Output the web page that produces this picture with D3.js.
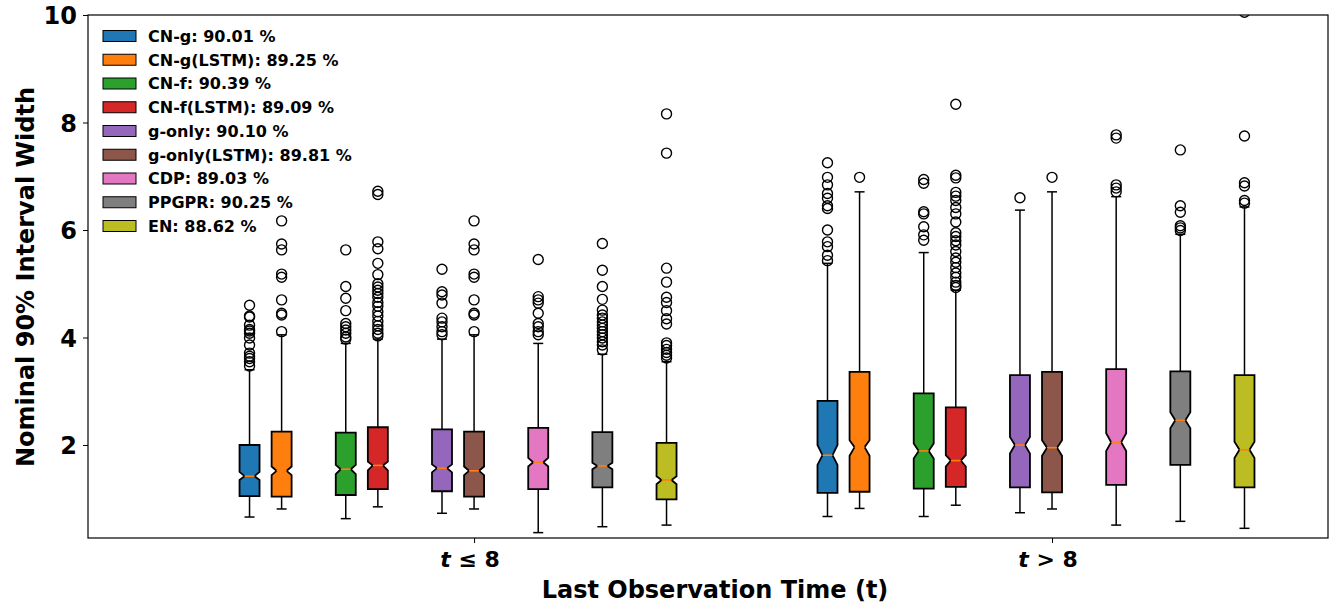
<!DOCTYPE html>
<html><head><meta charset="utf-8">
<script src="https://cdn.jsdelivr.net/npm/d3@7"></script>
<style>body{margin:0;background:#fff}svg{display:block}text{font-family:"DejaVu Sans",sans-serif;font-weight:bold}</style>
</head><body><svg id="c" width="1330" height="603"></svg>
<script>
const methods = ["CN-g","CN-g(LSTM)","CN-f","CN-f(LSTM)","g-only","g-only(LSTM)","CDP","PPGPR","EN"];
const coverage = ["90.01","89.25","90.39","89.09","90.10","89.81","89.03","90.25","88.62"];
const colors = ["#1f77b4","#ff7f0e","#2ca02c","#d62728","#9467bd","#8c564b","#e377c2","#7f7f7f","#bcbd22"];
const groups = ["t ≤ 8","t > 8"];
const offsets = [-7,-6,-4,-3,-1,0,2,4,6].map(k=>k*0.0555);
const yTicks = [2,4,6,8,10];
// per method: [group t<=8, group t>8]
const q1   = [[1.05,1.11],[1.04,1.13],[1.07,1.19],[1.18,1.22],[1.14,1.21],[1.04,1.12],[1.18,1.26],[1.21,1.63],[0.99,1.21]];
const q3   = [[2.00,2.82],[2.25,3.36],[2.23,2.96],[2.33,2.70],[2.29,3.30],[2.25,3.36],[2.32,3.41],[2.24,3.37],[2.04,3.30]];
const med  = [[1.42,1.81],[1.52,1.96],[1.55,1.89],[1.62,1.71],[1.57,2.00],[1.52,1.95],[1.68,2.05],[1.61,2.46],[1.35,1.91]];
const ciLo = [[1.35,1.63],[1.44,1.80],[1.46,1.75],[1.53,1.60],[1.49,1.84],[1.44,1.80],[1.60,1.89],[1.55,2.31],[1.27,1.76]];
const ciHi = [[1.50,2.00],[1.60,2.09],[1.63,2.03],[1.69,1.81],[1.64,2.15],[1.60,2.09],[1.76,2.22],[1.67,2.61],[1.42,2.06]];
const whisLo = [[0.66,0.67],[0.81,0.82],[0.63,0.67],[0.85,0.88],[0.73,0.74],[0.81,0.81],[0.37,0.51],[0.48,0.58],[0.51,0.45]];
const whisHi = [[3.40,5.38],[4.05,6.71],[3.89,5.58],[3.97,4.88],[3.97,6.37],[4.05,6.71],[3.89,6.62],[3.69,5.92],[3.55,6.43]];
const fliers = [
 [[4.60,4.40,4.38,4.23,4.15,4.12,4.08,3.99,3.86,3.71,3.65,3.61,3.55,3.47],[7.25,6.98,6.84,6.68,6.59,6.45,6.40,6.00,5.78,5.69,5.53,5.43]],
 [[6.17,5.74,5.63,5.18,5.12,4.70,4.45,4.42,4.11],[6.98]],
 [[5.63,4.95,4.73,4.50,4.26,4.20,4.14,4.08,4.01,3.97],[6.94,6.87,6.34,6.30,6.06,5.91,5.81]],
 [[6.72,6.66,5.78,5.65,5.38,5.17,5.00,4.94,4.88,4.82,4.75,4.65,4.58,4.48,4.40,4.30,4.22,4.15,4.08,4.03],
  [8.34,7.02,6.97,6.70,6.63,6.55,6.42,6.30,6.15,5.95,5.88,5.80,5.72,5.60,5.48,5.40,5.30,5.20,5.12,5.03,4.97,4.93]],
 [[5.27,4.85,4.79,4.64,4.36,4.29,4.20,4.11,4.05],[6.60]],
 [[6.17,5.74,5.63,5.18,5.12,4.70,4.45,4.42,4.11],[6.98]],
 [[5.45,4.76,4.70,4.64,4.45,4.26,4.20,4.11,4.05],[7.77,7.71,6.84,6.78,6.71]],
 [[5.75,5.25,4.95,4.71,4.51,4.42,4.36,4.29,4.23,4.17,4.11,4.05,3.99,3.92,3.86,3.77],[7.49,6.45,6.33,6.08,6.04,5.99]],
 [[8.16,7.43,5.29,5.03,4.75,4.65,4.50,4.35,4.25,3.90,3.85,3.78,3.72,3.67,3.62],[10.05,7.75,6.88,6.82,6.55,6.50]]
];

const M = {l:88, r:1328, t:15, b:538};
const svg = d3.select("#c");
const x = d3.scaleLinear().domain([-0.668,1.4775]).range([M.l,M.r]);
const y = d3.scaleLinear().domain([0.27,10]).range([M.b,M.t]);
const BW = 20;

svg.append("defs").append("clipPath").attr("id","clip")
  .append("rect").attr("x",M.l).attr("y",M.t).attr("width",M.r-M.l).attr("height",M.b-M.t);
const plot = svg.append("g").attr("clip-path","url(#clip)");

methods.forEach((m,i)=>{
  [0,1].forEach(g=>{
    const cx = x(g+offsets[i]);
    const L = cx-BW/2, R = cx+BW/2, nL = cx-BW/4, nR = cx+BW/4, cw = BW/4;
    const gg = plot.append("g");
    gg.append("line").attr("x1",cx).attr("x2",cx).attr("y1",y(q1[i][g])).attr("y2",y(whisLo[i][g])).attr("stroke","#000").attr("stroke-width",1.5);
    gg.append("line").attr("x1",cx).attr("x2",cx).attr("y1",y(q3[i][g])).attr("y2",y(whisHi[i][g])).attr("stroke","#000").attr("stroke-width",1.5);
    gg.append("line").attr("x1",cx-cw).attr("x2",cx+cw).attr("y1",y(whisLo[i][g])).attr("y2",y(whisLo[i][g])).attr("stroke","#000").attr("stroke-width",1.5);
    gg.append("line").attr("x1",cx-cw).attr("x2",cx+cw).attr("y1",y(whisHi[i][g])).attr("y2",y(whisHi[i][g])).attr("stroke","#000").attr("stroke-width",1.5);
    const pts = [[L,q1[i][g]],[R,q1[i][g]],[R,ciLo[i][g]],[nR,med[i][g]],[R,ciHi[i][g]],[R,q3[i][g]],
                 [L,q3[i][g]],[L,ciHi[i][g]],[nL,med[i][g]],[L,ciLo[i][g]]];
    gg.append("path").attr("d",d3.line().x(d=>d[0]).y(d=>y(d[1]))(pts)+"Z")
      .attr("fill",colors[i]).attr("stroke","#000").attr("stroke-width",1.8).attr("stroke-linejoin","miter");
    gg.append("line").attr("x1",nL).attr("x2",nR).attr("y1",y(med[i][g])).attr("y2",y(med[i][g])).attr("stroke","#ff7f0e").attr("stroke-width",1.6);
    gg.selectAll("circle.f").data(fliers[i][g]).join("circle")
      .attr("cx",cx).attr("cy",d=>y(d)).attr("r",5).attr("fill","none").attr("stroke","#000").attr("stroke-width",1.4);
  });
});

const yAxis = d3.axisLeft(y).tickValues(yTicks).tickSize(5).tickPadding(6).tickFormat(d3.format("d"));
const ya = svg.append("g").attr("transform",`translate(${M.l},0)`).call(yAxis);
ya.select(".domain").remove();
ya.selectAll("text").attr("font-size",24).attr("font-family","DejaVu Sans").attr("font-weight","bold").attr("fill","#000").attr("dy","0.36em");
ya.selectAll("line").attr("stroke","#000");

const xAxis = d3.axisBottom(x).tickValues([0,1]).tickSize(5).tickPadding(5).tickFormat(()=>"");
const xa = svg.append("g").attr("transform",`translate(0,${M.b})`).call(xAxis);
xa.select(".domain").remove();
xa.selectAll("line").attr("stroke","#000");
groups.forEach((gname,g)=>{
  const t = svg.append("text").attr("x",x(g)-4).attr("y",567).attr("text-anchor","middle").attr("font-size",22).attr("fill","#000");
  t.append("tspan").attr("font-style","italic").text("t");
  t.append("tspan").text(gname.slice(1));
});

svg.append("rect").attr("x",M.l).attr("y",M.t).attr("width",M.r-M.l).attr("height",M.b-M.t)
  .attr("fill","none").attr("stroke","#000").attr("stroke-width",1.2);

svg.append("text").attr("x",715).attr("y",598).attr("text-anchor","middle").attr("font-size",24).attr("fill","#000")
  .text("Last Observation Time (t)");
svg.append("text").attr("transform",`translate(34,277) rotate(-90)`).attr("text-anchor","middle").attr("font-size",24).attr("fill","#000")
  .text("Nominal 90% Interval Width");

const lg = svg.append("g");
methods.forEach((m,i)=>{
  const cy = 36 + i*23.75;
  lg.append("rect").attr("x",103).attr("y",cy-5.5).attr("width",33).attr("height",11).attr("fill",colors[i]).attr("stroke","#000").attr("stroke-width",1);
  lg.append("text").attr("x",148).attr("y",cy).attr("dy","0.36em").attr("font-size",16).attr("fill","#000").text(`${m}: ${coverage[i]} %`);
});
</script></body></html>
